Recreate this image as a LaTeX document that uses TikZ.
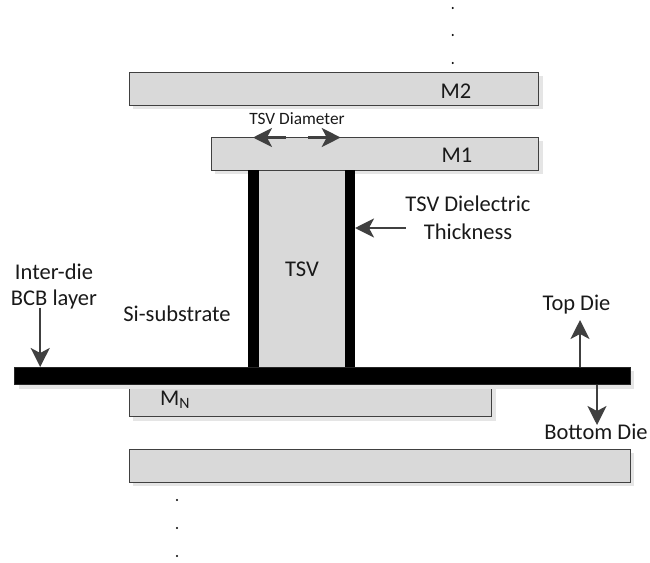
\documentclass[tikz,border=0pt]{standalone}
\usepackage{fontspec}
\setmainfont{Carlito}
\usetikzlibrary{arrows.meta,shadows}
\definecolor{layerfill}{HTML}{D9D9D9}
\definecolor{layerline}{HTML}{404040}
\tikzset{
  layerbox/.style={draw=layerline,fill=layerfill,line width=1pt,inner sep=0pt,
    general shadow={fill=black!10,shadow xshift=4pt,shadow yshift=-4pt}},
  darkbox/.style={draw=black,fill=black,line width=0.5pt,inner sep=0pt},
  plainbox/.style={draw=none,fill=layerfill,inner sep=0pt},
  lbl/.style={font=\fontsize{22.5}{22.5}\selectfont,inner sep=0pt,text=black!90,anchor=center},
  smalllbl/.style={font=\fontsize{17.3}{17.3}\selectfont,inner sep=0pt,text=black!90,anchor=center},
  dimarrow/.style={draw=layerline,line width=2.4pt,-{Stealth[length=19pt,width=19pt,inset=5pt]},shorten >=0pt},
  dotmark/.style={circle,fill=black,inner sep=0pt,minimum size=2.4pt},
}
\newcommand{\layer}[6]{\node[#1,minimum width=#5pt-#3pt,minimum height=#6pt-#4pt] (#2) at ({(#3+#5)/2},{(#4+#6)/2}) {};}
\begin{document}
\begin{tikzpicture}[x=1pt,y=-1pt]
\useasboundingbox (0,0) rectangle (650,562);
\layer{layerbox}{mtwo}{129}{72}{538.7}{105}
\layer{layerbox}{mone}{211.3}{137.3}{538.7}{170}
\layer{plainbox}{tsv}{258}{170.5}{345}{367}
\layer{darkbox}{barl}{248.3}{170.5}{258}{367}
\layer{darkbox}{barr}{345}{170.5}{354.7}{367}
\layer{layerbox}{mn}{129.4}{384.7}{491.5}{416.7}
\layer{layerbox}{bottom}{129.4}{449.3}{630}{482}
\node[draw=black!85,fill=black,line width=1pt,inner sep=0pt,minimum width=615.5pt,minimum height=17.5pt,
  general shadow={fill=black!10,shadow xshift=4pt,shadow yshift=-4pt}] (bcb) at (322.3,375.8) {};
% labels
\node[lbl] (lm2) at (456,91) {M2};
\node[lbl] (lm1) at (457,155) {M1};
\node[smalllbl] (ldia) at (297,119) {TSV Diameter};
\node[lbl] (ldie1) at (468,204) {TSV Dielectric};
\node[lbl] (ldie2) at (468,232) {Thickness};
\node[lbl] (ltsv) at (302,269) {TSV};
\node[lbl] (linter) at (54,272) {Inter-die};
\node[lbl] (lbcb) at (54,299) {BCB layer};
\node[lbl] (lsi) at (177,314) {Si-substrate};
\node[lbl] (ltop) at (576.5,305) {Top Die};
\node[lbl] (lbot) at (596,432) {Bottom Die};
\node[lbl] (lmn) at (175,400) {M\textsubscript{N}};
% arrow ends
\coordinate (dl0) at (286,137.5); \coordinate (dl1) at (253,137.5);
\coordinate (dr0) at (308,137.5); \coordinate (dr1) at (340.7,137.5);
\coordinate (th0) at (405.7,228); \coordinate (th1) at (355,228);
\coordinate (bc0) at (40.2,307.7); \coordinate (bc1) at (40.2,367);
\coordinate (td0) at (580,367); \coordinate (td1) at (580,320);
\coordinate (bd0) at (597,384.7); \coordinate (bd1) at (597,425);
\draw[dimarrow] (dl0) -- (dl1);
\draw[dimarrow] (dr0) -- (dr1);
\draw[dimarrow] (th0) -- (th1);
\draw[dimarrow] (bc0) -- (bc1);
\draw[dimarrow] (td0) -- (td1);
\draw[dimarrow] (bd0) -- (bd1);
% dots
\node[dotmark] (t1) at (452.7,8) {};
\node[dotmark] (t2) at (452.7,35) {};
\node[dotmark] (t3) at (452.7,63) {};
\node[dotmark] (b1) at (177,500) {};
\node[dotmark] (b2) at (177,528) {};
\node[dotmark] (b3) at (177,556) {};
\end{tikzpicture}
\end{document}
